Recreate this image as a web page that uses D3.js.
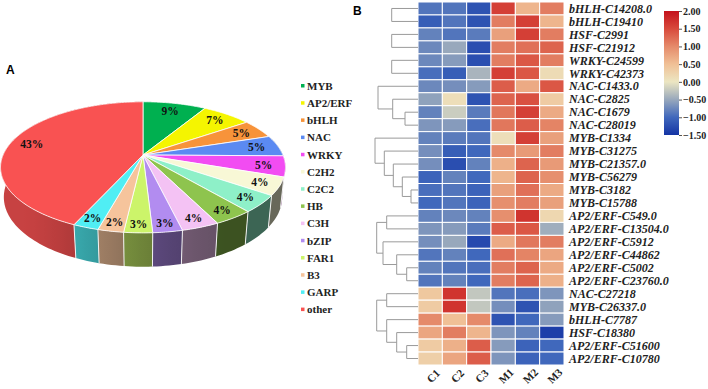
<!DOCTYPE html>
<html>
<head>
<meta charset="utf-8">
<script src="https://cdn.jsdelivr.net/npm/d3@7"></script>
<style>
  body { margin: 0; background: #fff; }
  text { font-family: "Times New Roman", "Liberation Serif", serif; font-weight: bold; }
  .panel { font-family: Arial, "Liberation Sans", sans-serif; font-size: 12px; }
</style>
</head>
<body>
<div id="chart"></div>
<script>
const W = 708, H = 389;

// Panel A: TF family shares (percent)
const groups = ["MYB", "AP2/ERF", "bHLH", "NAC", "WRKY", "C2H2", "C2C2", "HB", "C3H", "bZIP", "FAR1", "B3", "GARP", "other"];
const shares = [8.6, 6.7, 4.7, 5.2, 5.1, 4.4, 4.2, 3.8, 3.6, 2.8, 2.7, 2.45, 2.45, 43.3];
const groupColors = ["#00b050", "#f5f500", "#f7933a", "#5b8af2", "#f24cf2", "#f8f8d6", "#8ef0c8",
  "#8ec44e", "#f4c2f4", "#b28cf0", "#ccf46a", "#f6c49c", "#50eef4", "#f95252"];

// Panel B: heatmap
const samples = ["C1", "C2", "C3", "M1", "M2", "M3"];
const genes = ["bHLH-C14208.0", "bHLH-C19410", "HSF-C2991", "HSF-C21912", "WRKY-C24599", "WRKY-C42373",
  "NAC-C1433.0", "NAC-C2825", "NAC-C1679", "NAC-C28019", "MYB-C1334", "MYB-C31275", "MYB-C21357.0",
  "MYB-C56279", "MYB-C3182", "MYB-C15788", "AP2/ERF-C549.0", "AP2/ERF-C13504.0", "AP2/ERF-C5912",
  "AP2/ERF-C44862", "AP2/ERF-C5002", "AP2/ERF-C23760.0", "NAC-C27218", "MYB-C26337.0", "bHLH-C7787",
  "HSF-C18380", "AP2/ERF-C51600", "AP2/ERF-C10780"];
const values = [
  [-0.9, -0.9, -1.2, 1.6, 0.6, 1.1],
  [-1.1, -0.9, -1.2, 1.1, 1.6, 0.6],
  [-0.8, -0.9, -0.85, 0.8, 1.6, 1.1],
  [-0.75, -0.5, -1.25, 1.1, 1.2, 1.3],
  [-0.75, -0.6, -1.25, 1.1, 1.4, 1.1],
  [-0.95, -1.1, -0.4, 1.6, 1.4, 0.15],
  [-0.75, -0.7, -0.6, 1.35, 0.7, 1.4],
  [-0.55, 0.1, -1.2, 1.3, 1.45, 0.35],
  [-0.8, -0.2, -0.85, 1.15, 1.6, 0.7],
  [-0.65, -0.6, -0.95, 1.15, 1.35, 1.05],
  [-0.8, -0.85, -0.9, 0.1, 1.6, 0.8],
  [-0.7, -1.1, -1.0, 1.0, 0.85, 1.1],
  [-0.7, -1.25, -0.8, 0.65, 1.3, 0.85],
  [-1.05, -0.8, -1.0, 0.6, 1.3, 0.95],
  [-0.95, -0.9, -1.05, 0.8, 1.2, 0.7],
  [-1.0, -0.9, -1.05, 0.95, 1.1, 0.8],
  [-0.8, -0.75, -0.8, 0.95, 1.7, 0.2],
  [-0.65, -0.6, -0.85, 1.35, 1.4, -0.45],
  [-0.7, -0.5, -1.3, 0.7, 1.15, 1.1],
  [-0.9, -0.8, -1.0, 1.2, 1.05, 0.75],
  [-0.8, -0.9, -0.95, 1.1, 1.3, 0.7],
  [-0.9, -0.8, -1.0, 1.1, 1.3, 0.65],
  [0.4, 1.7, -0.25, -0.9, -0.95, -0.65],
  [0.35, 1.7, -0.25, -0.7, -1.2, -0.55],
  [1.0, 0.5, 1.0, -1.2, -1.0, -0.6],
  [0.75, 1.1, 0.6, -0.65, -0.8, -1.4],
  [0.35, 0.65, 1.35, -0.6, -1.05, -1.0],
  [0.3, 0.75, 1.35, -0.65, -1.05, -1.0]
];
// row dendrogram: [childA, childB, height]; leaves 0..27, merges numbered from 28
const links = [
  [0, 1, 26.3], [2, 3, 26.3], [4, 5, 26.3],
  [8, 9, 13], [7, 31, 25.3], [6, 32, 40],
  [14, 15, 7], [13, 34, 15.7], [12, 35, 24.7], [11, 36, 33.7], [10, 37, 43],
  [16, 17, 31.3], [20, 21, 11.3], [19, 40, 21.3], [18, 41, 35], [39, 42, 41.3],
  [22, 23, 31.3], [26, 27, 11.3], [25, 45, 21.3], [24, 46, 31.3], [44, 47, 41.3]
];
const colorStops = [-1.5, -1.0, -0.5, 0, 0.5, 1.0, 1.5, 2.0];
const colorRange = ["#1434a4", "#4068bc", "#98a8bc", "#ece6c2", "#f0c096", "#e58a6a", "#d84a3c", "#c4121c"];
const legendTicks = [2.0, 1.5, 1.0, 0.5, 0.0, -0.5, -1.0, -1.5];

const svg = d3.select("#chart").append("svg")
  .attr("width", W)
  .attr("height", H);
const defs = svg.append("defs");

// ---------- Panel A: 3D pie ----------
svg.append("text").attr("class", "panel").attr("x", 6).attr("y", 74).text("A");

const pieCx = 143, pieCy = 155;
const cam = { f: 664, D: 4.745, s: 0.452, c: 0.892, h: 0.2405 };
// angle clockwise from 12 o'clock, r radius (0..1), depth 0 = top face, 1 = bottom face
let project = (a, r, depth) => {
  const X = r * Math.sin(a), Z = -r * Math.cos(a), Y = -depth * cam.h;
  const yc = Z * cam.s - Y * cam.c;
  const zc = cam.D - Z * cam.c - Y * cam.s;
  return [pieCx + cam.f * X / zc, pieCy + cam.f * yc / zc, zc];
};

const arcs = d3.pie().sort(null).value(d => d)(shares);
const line = d3.line();
const step = Math.PI / 120;

let shade = (col, a) => {
  const deg = a * 180 / Math.PI;
  let t = Math.max(0, Math.min(1, (deg - 150) / 80));
  t = t * t * (3 - 2 * t);
  const k = 0.42 + 0.38 * t;
  const c = d3.rgb(col);
  return d3.rgb(c.r * k, c.g * k, c.b * k).formatHex();
};

// side walls: one path per slice, shaded with a horizontal gradient
const walls = arcs.map((d, i) => {
  const n = Math.max(2, Math.ceil((d.endAngle - d.startAngle) / step));
  const top = [], bot = [], vis = [];
  for (let j = 0; j <= n; j++) {
    const a = d.startAngle + (d.endAngle - d.startAngle) * j / n;
    const p = project(a, 1, 0);
    top.push([p[0], p[1]]);
    const q = project(a, 1, 1);
    bot.push([q[0], q[1]]);
    if (-Math.cos(a) > -0.02) vis.push({ x: p[0], col: shade(groupColors[i], a) });
  }
  const mid = project((d.startAngle + d.endAngle) / 2, 1, 0.5)[2];
  return { i: i, d: line(top.concat(bot.reverse())) + "Z", vis: vis, z: mid };
}).filter(w => w.vis.length > 1);
walls.sort((p, q) => q.z - p.z);

walls.forEach(w => {
  const xs = w.vis.map(v => v.x);
  const x0 = d3.min(xs), x1 = d3.max(xs);
  const g = defs.append("linearGradient")
    .attr("id", "wall-" + w.i)
    .attr("gradientUnits", "userSpaceOnUse")
    .attr("x1", x0).attr("x2", x1).attr("y1", 0).attr("y2", 0);
  g.selectAll("stop")
    .data(w.vis.slice().sort((a, b) => a.x - b.x))
    .enter().append("stop")
    .attr("offset", v => x1 > x0 ? (v.x - x0) / (x1 - x0) : 0)
    .attr("stop-color", v => v.col);
});

const wallG = svg.append("g");
wallG.selectAll("path")
  .data(walls)
  .enter().append("path")
  .attr("d", w => w.d)
  .attr("fill", w => "url(#wall-" + w.i + ")");

// separators on the walls
wallG.selectAll("line")
  .data(arcs.filter(d => -Math.cos(d.startAngle) > 0))
  .enter().append("line")
  .attr("x1", d => project(d.startAngle, 1, 0)[0])
  .attr("y1", d => project(d.startAngle, 1, 0)[1])
  .attr("x2", d => project(d.startAngle, 1, 1)[0])
  .attr("y2", d => project(d.startAngle, 1, 1)[1])
  .attr("stroke", "#f2f2f2")
  .attr("stroke-width", 1);

// top faces
let topPath = d => {
  const pts = [[pieCx, pieCy]];
  const n = Math.max(2, Math.ceil((d.endAngle - d.startAngle) / (step / 2)));
  for (let j = 0; j <= n; j++) {
    const p = project(d.startAngle + (d.endAngle - d.startAngle) * j / n, 1, 0);
    pts.push([p[0], p[1]]);
  }
  return line(pts) + "Z";
};

svg.append("g").selectAll("path")
  .data(arcs)
  .enter().append("path")
  .attr("d", topPath)
  .attr("fill", (d, i) => groupColors[i])
  .attr("stroke", "#ffffff")
  .attr("stroke-width", 0.8)
  .attr("stroke-linejoin", "round");

// percent labels
svg.append("g").selectAll("text")
  .data(arcs)
  .enter().append("text")
  .each(function (d) {
    const a = (d.startAngle + d.endAngle) / 2;
    const r = 0.84 + 0.06 * Math.max(0, -Math.cos(a));
    const p = project(a, r, 0);
    d3.select(this).attr("x", p[0]).attr("y", p[1]);
  })
  .attr("dy", "0.35em")
  .attr("text-anchor", "middle")
  .attr("font-size", 11.5)
  .attr("fill", "#111")
  .text(d => Math.round(d.value) + "%");

// legend
const legendY = d3.scalePoint().domain(groups).range([86, 309.6]);
const legend = svg.append("g").selectAll("g")
  .data(groups)
  .enter().append("g")
  .attr("transform", d => "translate(301," + legendY(d) + ")");
legend.append("rect")
  .attr("x", 0).attr("y", -2).attr("width", 3.5).attr("height", 3.5)
  .attr("fill", (d, i) => groupColors[i]);
legend.append("text")
  .attr("x", 6).attr("dy", "0.35em")
  .attr("font-size", 11)
  .attr("fill", "#222")
  .text(d => d);

// ---------- Panel B: heatmap ----------
svg.append("text").attr("class", "panel").attr("x", 353).attr("y", 15).text("B");

const xScale = d3.scaleBand().domain(samples).range([418, 564]);
const yScale = d3.scaleBand().domain(genes).range([2, 365]);
const color = d3.scaleLinear().domain(colorStops).range(colorRange).clamp(true);

const cells = [];
values.forEach((row, i) => row.forEach((v, j) => cells.push({ g: genes[i], s: samples[j], v: v })));

svg.append("g").selectAll("rect")
  .data(cells)
  .enter().append("rect")
  .attr("x", d => xScale(d.s))
  .attr("y", d => yScale(d.g))
  .attr("width", xScale.bandwidth())
  .attr("height", yScale.bandwidth())
  .attr("fill", d => color(d.v))
  .attr("stroke", "#ffffff")
  .attr("stroke-width", 1);

svg.append("g").selectAll("text")
  .data(genes)
  .enter().append("text")
  .attr("x", 569)
  .attr("y", d => yScale(d) + yScale.bandwidth() / 2)
  .attr("dy", "0.35em")
  .attr("font-size", 12)
  .attr("font-style", "italic")
  .attr("fill", "#222")
  .text(d => d);

svg.append("g").selectAll("text")
  .data(samples)
  .enter().append("text")
  .attr("transform", d => "translate(" + (xScale(d) + xScale.bandwidth() / 2 + 3) + ",376) rotate(-45)")
  .attr("dy", "0.35em")
  .attr("text-anchor", "middle")
  .attr("font-size", 11)
  .attr("fill", "#222")
  .text(d => d);

// dendrogram
const dx = d3.scaleLinear().domain([0, 45]).range([418, 373]);
const nodes = genes.map(g => ({ y: yScale(g) + yScale.bandwidth() / 2, h: 0 }));
const segs = [];
links.forEach(l => {
  const a = nodes[l[0]], b = nodes[l[1]];
  segs.push([[dx(a.h), a.y], [dx(l[2]), a.y], [dx(l[2]), b.y], [dx(b.h), b.y]]);
  nodes.push({ y: (a.y + b.y) / 2, h: l[2] });
});
svg.append("g").selectAll("path")
  .data(segs)
  .enter().append("path")
  .attr("d", d => line(d))
  .attr("fill", "none")
  .attr("stroke", "#9a9a9a")
  .attr("stroke-width", 1);

// colour bar
const barScale = d3.scaleLinear().domain([-1.5, 2]).range([135, 11]);
const grad = defs.append("linearGradient")
  .attr("id", "bar-grad")
  .attr("x1", 0).attr("y1", 1).attr("x2", 0).attr("y2", 0);
grad.selectAll("stop")
  .data(colorStops)
  .enter().append("stop")
  .attr("offset", d => (d + 1.5) / 3.5)
  .attr("stop-color", (d, i) => colorRange[i]);
svg.append("rect")
  .attr("x", 664).attr("y", 11)
  .attr("width", 15).attr("height", 124)
  .attr("fill", "url(#bar-grad)");
const barAxis = svg.append("g")
  .attr("transform", "translate(679,0)")
  .call(d3.axisRight(barScale).tickValues(legendTicks).tickFormat(d3.format(".2f")).tickSize(3).tickPadding(1));
barAxis.select(".domain").remove();
barAxis.selectAll(".tick line").attr("stroke", "#555");
barAxis.selectAll(".tick text")
  .attr("font-size", 10)
  .attr("font-family", "'Times New Roman', 'Liberation Serif', serif")
  .attr("font-weight", "bold")
  .attr("fill", "#222");
</script>
</body>
</html>
